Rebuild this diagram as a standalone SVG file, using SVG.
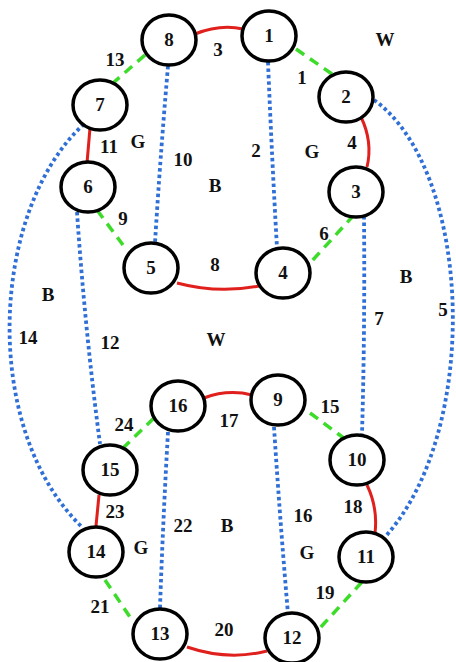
<svg xmlns="http://www.w3.org/2000/svg" width="456" height="662" viewBox="0 0 456 662">
<style>
.n ellipse{fill:#fff;stroke:#000;stroke-width:3.5}
text{font-family:"Liberation Serif","Times New Roman",serif;font-weight:bold;font-size:19px;fill:#111;text-anchor:middle}
.r{fill:none;stroke:#e0201c;stroke-width:3}
.g{fill:none;stroke:#3ddc2a;stroke-width:3.5;stroke-dasharray:10 7}
.b{fill:none;stroke:#2f6fd6;stroke-width:3.8;stroke-dasharray:3.4 3}
</style>
<rect width="456" height="662" fill="#fff"/>
<g id="connectors">
<path class="r" d="M195,34 Q220,24 243,29"/>
<path class="g" d="M296,49 L332,74"/>
<path class="r" d="M361,117 Q373,142 367,167"/>
<path class="g" d="M354,215 L310,263"/>
<path class="r" d="M177,283 Q218,294 259,286"/>
<path class="g" d="M97,210 L123,245"/>
<path class="r" d="M90,128 L87,163"/>
<path class="g" d="M145,55 L113,83"/>
<path class="b" d="M268,62 Q272,160 277,248"/>
<path class="b" d="M168,66 Q160,160 155,243"/>
<path class="b" d="M364,216 Q365,330 362,434"/>
<path class="b" d="M374,100 C472,170 482,430 385,537"/>
<path class="b" d="M84,124 C-10,210 -20,430 83,528"/>
<path class="b" d="M77,212 Q85,330 100,444"/>
<path class="r" d="M204,398 Q228,389 252,395"/>
<path class="g" d="M310,413 L345,439"/>
<path class="r" d="M367,485 Q378,508 375,533"/>
<path class="g" d="M362,582 L320,628"/>
<path class="r" d="M187,647 Q228,661 267,651"/>
<path class="g" d="M105,580 L130,617"/>
<path class="r" d="M99,495 L96,526"/>
<path class="g" d="M154,418 L123,448"/>
<path class="b" d="M168,432 Q163,520 160,608"/>
<path class="b" d="M274,427 Q280,520 288,614"/>
</g>
<g id="n1" class="n"><ellipse cx="269" cy="36" rx="27" ry="25"/><text x="269" y="42">1</text></g>
<g id="n2" class="n"><ellipse cx="346" cy="97" rx="27" ry="25"/><text x="346" y="103">2</text></g>
<g id="n3" class="n"><ellipse cx="356" cy="192" rx="27" ry="25"/><text x="356" y="198">3</text></g>
<g id="n4" class="n"><ellipse cx="283" cy="273" rx="27" ry="25"/><text x="283" y="279">4</text></g>
<g id="n5" class="n"><ellipse cx="151" cy="268" rx="27" ry="25"/><text x="151" y="274">5</text></g>
<g id="n6" class="n"><ellipse cx="88" cy="187" rx="27" ry="25"/><text x="88" y="193">6</text></g>
<g id="n7" class="n"><ellipse cx="100" cy="105" rx="27" ry="25"/><text x="100" y="111">7</text></g>
<g id="n8" class="n"><ellipse cx="169" cy="40" rx="27" ry="25"/><text x="169" y="46">8</text></g>
<g id="n9" class="n"><ellipse cx="278" cy="400" rx="27" ry="25"/><text x="278" y="406">9</text></g>
<g id="n10" class="n"><ellipse cx="357" cy="460" rx="27" ry="25"/><text x="357" y="466">10</text></g>
<g id="n11" class="n"><ellipse cx="366" cy="557" rx="27" ry="25"/><text x="366" y="563">11</text></g>
<g id="n12" class="n"><ellipse cx="292" cy="638" rx="27" ry="25"/><text x="292" y="644">12</text></g>
<g id="n13" class="n"><ellipse cx="160" cy="634" rx="27" ry="25"/><text x="160" y="640">13</text></g>
<g id="n14" class="n"><ellipse cx="96" cy="552" rx="27" ry="25"/><text x="96" y="558">14</text></g>
<g id="n15" class="n"><ellipse cx="110" cy="470" rx="27" ry="25"/><text x="110" y="476">15</text></g>
<g id="n16" class="n"><ellipse cx="178" cy="406" rx="27" ry="25"/><text x="178" y="412">16</text></g>
<g id="labels">
<text x="218" y="56">3</text>
<text x="302" y="84">1</text>
<text x="115" y="66">13</text>
<text x="109" y="153">11</text>
<text x="183" y="166">10</text>
<text x="256" y="157">2</text>
<text x="352" y="149">4</text>
<text x="123" y="225">9</text>
<text x="324" y="240">6</text>
<text x="215" y="271">8</text>
<text x="443" y="316">5</text>
<text x="379" y="325">7</text>
<text x="28" y="344">14</text>
<text x="110" y="349">12</text>
<text x="330" y="413">15</text>
<text x="124" y="431">24</text>
<text x="229" y="427">17</text>
<text x="115" y="518">23</text>
<text x="183" y="532">22</text>
<text x="303" y="522">16</text>
<text x="353" y="513">18</text>
<text x="100" y="613">21</text>
<text x="325" y="599">19</text>
<text x="224" y="636">20</text>
<text x="385" y="46">W</text>
<text x="138" y="148">G</text>
<text x="312" y="158">G</text>
<text x="215" y="192">B</text>
<text x="406" y="283">B</text>
<text x="48" y="301">B</text>
<text x="216" y="346">W</text>
<text x="227" y="532">B</text>
<text x="141" y="554">G</text>
<text x="307" y="559">G</text>
</g>
</svg>
